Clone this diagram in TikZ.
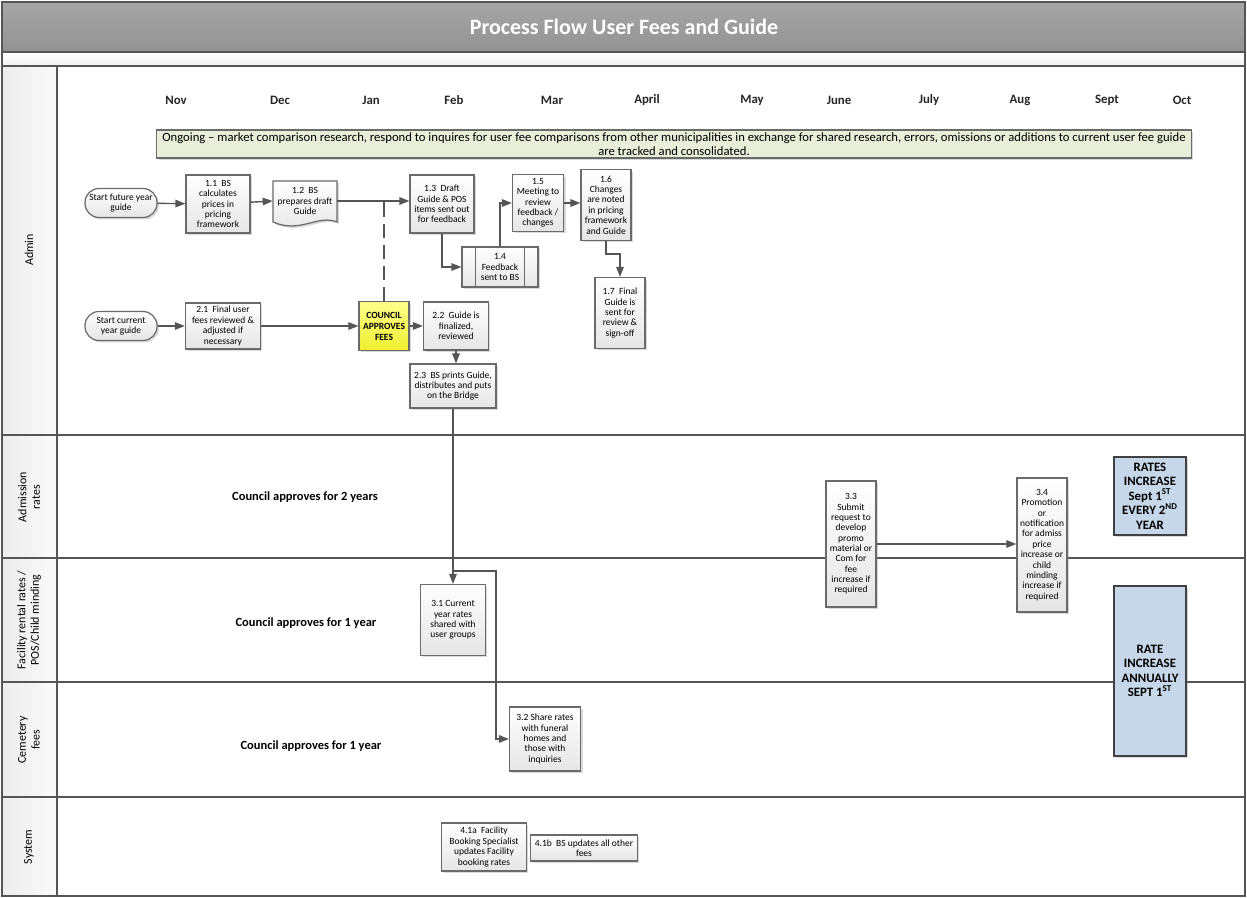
\documentclass[tikz,border=0pt]{standalone}
\usepackage{fontspec}
\setmainfont{Carlito}
\usetikzlibrary{arrows.meta,shadows}
\definecolor{frame}{HTML}{555555}
\definecolor{boxedge}{HTML}{6A6A6A}
\definecolor{notegreen}{HTML}{E8EED8}
\definecolor{rateblue}{HTML}{C5D7E8}
\definecolor{yellowtop}{HTML}{FFFF8C}
\definecolor{yellowbot}{HTML}{EEEE30}
\def \sm{\fontsize{5.4}{5.9}\selectfont}

\begin{document}
\begin{tikzpicture}[x=0.02cm, y=-0.02cm,
    stepbox/.style={draw=boxedge, line width=0.7pt, top color=white, bottom color=gray!20,
      align=center, inner sep=1pt, font=\sm,
      drop shadow={shadow xshift=0.04cm, shadow yshift=-0.04cm, opacity=0.3}},
    startbox/.style={stepbox, rounded corners=0.28cm, minimum width=1.44cm, minimum height=0.58cm},
    ratebox/.style={draw=black!75, line width=0.9pt, fill=rateblue, align=center,
      font=\fontsize{7.3}{8.3}\selectfont\bfseries,
      drop shadow={shadow xshift=0.04cm, shadow yshift=-0.04cm, opacity=0.3}},
    flow/.style={draw=frame, line width=0.8pt, -{Triangle[length=0.2cm,width=0.15cm]}},
    month/.style={font=\fontsize{7.3}{8}\selectfont\bfseries, text=black!85},
    lanelabel/.style={rotate=90, align=center, font=\fontsize{6.8}{7.8}\selectfont},
    lanenote/.style={font=\fontsize{7.1}{8}\selectfont\bfseries}]
  \useasboundingbox (0,0) rectangle (1247,898);

  % frame and swim lanes
  \fill[top color=gray!70, bottom color=gray!85] (2,2) rectangle (1245,52);
  \fill[top color=white, bottom color=gray!10] (2,52) rectangle (1245,66);
  \fill[left color=gray!14, right color=gray!4] (2,66) rectangle (57,896);
  \draw[frame, line width=1pt] (2,2) rectangle (1245,896);
  \draw[frame, line width=1pt] (2,52) -- (1245,52);
  \draw[frame, line width=1pt] (2,66) -- (1245,66);
  \draw[frame, line width=1pt] (57,66) -- (57,896);
  \foreach \y in {435,558,682,797}
    \draw[frame, line width=1pt] (2,\y) -- (1245,\y);

  \node[font=\fontsize{12.5}{14}\selectfont\bfseries, text=white] (Title) at (624,27) {Process Flow User Fees and Guide};

  \node[lanelabel] (LAdmin) at (29,250) {Admin};
  \node[lanelabel] (LAdmission) at (29,497) {Admission\\rates};
  \node[lanelabel] (LFacility) at (29,620) {Facility rental rates /\\POS/Child minding};
  \node[lanelabel] (LCemetery) at (29,740) {Cemetery\\fees};
  \node[lanelabel] (LSystem) at (29,847) {System};

  \foreach \m/\x in {Nov/176, Dec/280, Jan/371, Feb/454, Mar/552, April/647, May/752, June/839, July/929, Aug/1020, Sept/1107, Oct/1182}
    \node[month] (\m) at (\x,100) {\m};

  \node[draw=boxedge, line width=0.7pt, fill=notegreen, minimum width=20.7cm, minimum height=0.56cm,
    align=center, inner sep=1pt, font=\fontsize{7.2}{7.8}\selectfont,
    drop shadow={shadow xshift=0.04cm, shadow yshift=-0.04cm, opacity=0.3}] (Ongoing) at (674,144)
    {Ongoing -- market comparison research, respond to inquires for user fee comparisons from other municipalities in exchange for shared research, errors, omissions or additions to current user fee guide\\are tracked and consolidated.};

  % admin lane, future year
  \node[startbox] (S1) at (121,203) {Start future year\\guide};
  \node[stepbox, minimum width=1.28cm, minimum height=1.16cm] (N11) at (218,204) {1.1~ BS\\calculates\\prices in\\pricing\\framework};
  \draw[boxedge, line width=0.7pt, top color=white, bottom color=gray!20,
    drop shadow={shadow xshift=0.04cm, shadow yshift=-0.04cm, opacity=0.3}]
    (273,181) -- (337,181) -- (337,222) .. controls (318,214) and (300,234) .. (273,222) -- cycle;
  \node[align=center, inner sep=1pt, font=\sm, minimum width=1.28cm, minimum height=0.82cm] (N12) at (305,201) {1.2~ BS\\prepares draft\\Guide};
  \node[stepbox, minimum width=1.28cm, minimum height=1.16cm] (N13) at (442,204) {1.3~ Draft\\Guide \& POS\\items sent out\\for feedback};
  \node[stepbox, minimum width=1.52cm, minimum height=0.8cm] (N14) at (500,267) {1.4\\Feedback\\sent to BS};
  \draw[boxedge, line width=0.7pt] ([xshift=0.28cm]N14.north west) -- ([xshift=0.28cm]N14.south west);
  \draw[boxedge, line width=0.7pt] ([xshift=-0.28cm]N14.north east) -- ([xshift=-0.28cm]N14.south east);
  \node[stepbox, minimum width=1.02cm, minimum height=1.14cm] (N15) at (538,203) {1.5\\Meeting to\\review\\feedback /\\changes};
  \node[stepbox, minimum width=1.0cm, minimum height=1.42cm] (N16) at (606,205) {1.6\\Changes\\are noted\\in pricing\\framework\\and Guide};
  \node[stepbox, minimum width=1.0cm, minimum height=1.42cm] (N17) at (620,313) {1.7~ Final\\Guide is\\sent for\\review \&\\sign-off};

  % admin lane, current year
  \node[startbox] (S2) at (121,326) {Start current\\year guide};
  \node[stepbox, minimum width=1.5cm, minimum height=0.92cm] (N21) at (223,326) {2.1~ Final user\\fees reviewed \&\\adjusted if\\necessary};
  \node[stepbox, top color=yellowtop, bottom color=yellowbot, minimum width=1.0cm, minimum height=0.98cm,
    font=\fontsize{5.4}{6.3}\selectfont\bfseries] (CA) at (384,326) {COUNCIL\\APPROVES\\FEES};
  \node[stepbox, minimum width=1.3cm, minimum height=0.96cm] (N22) at (456,326) {2.2~ Guide is\\finalized,\\reviewed};
  \node[stepbox, minimum width=1.72cm, minimum height=0.88cm] (N23) at (453,386) {2.3~ BS prints Guide,\\distributes and puts\\on the Bridge};

  % rate lanes
  \node[lanenote] (Note1) at (305,497) {Council approves for 2 years};
  \node[lanenote] (Note2) at (306,623) {Council approves for 1 year};
  \node[lanenote] (Note3) at (311,746) {Council approves for 1 year};
  \node[stepbox, minimum width=1.3cm, minimum height=1.42cm] (N31) at (453,620) {3.1 Current\\year rates\\shared with\\user groups};
  \node[stepbox, minimum width=1.42cm, minimum height=1.28cm] (N32) at (545,739) {3.2 Share rates\\with funeral\\homes and\\those with\\inquiries};
  \node[stepbox, minimum width=1.0cm, minimum height=2.52cm] (N33) at (851,544) {3.3\\Submit\\request to\\develop\\promo\\material or\\Com for\\fee\\increase if\\required};
  \node[stepbox, minimum width=1.0cm, minimum height=2.68cm] (N34) at (1042,545) {3.4\\Promotion\\or\\notification\\for admiss\\price\\increase or\\child\\minding\\increase if\\required};
  \node[ratebox, minimum width=1.44cm, minimum height=1.44cm] (R1) at (1150,496) {RATES\\INCREASE\\Sept 1\textsuperscript{ST}\\EVERY 2\textsuperscript{ND}\\YEAR};
  \node[ratebox, minimum width=1.44cm, minimum height=3.4cm] (R2) at (1150,671) {RATE\\INCREASE\\ANNUALLY\\SEPT 1\textsuperscript{ST}};

  % system lane
  \node[stepbox, minimum width=1.7cm, minimum height=0.96cm] (N41a) at (484,847) {4.1a~ Facility\\Booking Specialist\\updates Facility\\booking rates};
  \node[stepbox, minimum width=2.14cm, minimum height=0.52cm] (N41b) at (584,848) {4.1b~ BS updates all other\\fees};

  % connectors
  \draw[flow] (S1) -- (N11);
  \draw[flow] (N11) -- (N12.west);
  \draw[flow] (N12.east) -- (N13.west |- N12.east);
  \draw[frame, line width=0.8pt, dash pattern=on 8pt off 4pt] (CA.north) -- (CA.north |- N12.east);
  \draw[flow] (N13.south) |- (N14.west);
  \draw[flow] (N14.north) |- (N15.west);
  \draw[flow] (N15.east) -- (N15.east -| N16.west);
  \draw[flow] (N16.south) -- ++(0,13) -| (N17.north);
  \draw[flow] (S2) -- (N21);
  \draw[flow] (N21) -- (CA);
  \draw[flow] (CA) -- (N22);
  \draw[flow] (N22.south) -- (N22.south |- N23.north);
  \draw[flow] (N23.south) -- (N23.south |- N31.north);
  \coordinate (Split) at (453,571);
  \draw[flow] (Split) -- ++(43,0) |- (N32.west);
  \draw[flow] (N33.east) -- (N33.east -| N34.west);
\end{tikzpicture}
\end{document}
